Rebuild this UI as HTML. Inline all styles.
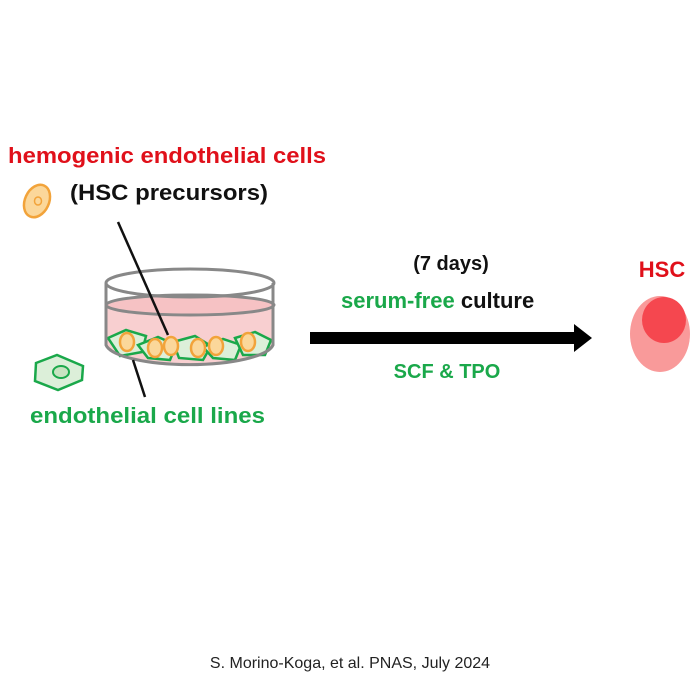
<!DOCTYPE html>
<html><head><style>body{margin:0;background:#fff}svg{display:block}</style></head><body>
<svg width="700" height="700" viewBox="0 0 700 700" xmlns="http://www.w3.org/2000/svg" font-family="Liberation Sans, Arial, sans-serif">
<rect width="700" height="700" fill="#fff"/>
<text x="8" y="163" font-size="22" font-weight="bold" fill="#e0101a" textLength="318" lengthAdjust="spacingAndGlyphs">hemogenic endothelial cells</text>
<text x="70" y="200" font-size="22" font-weight="bold" fill="#111" textLength="198" lengthAdjust="spacingAndGlyphs">(HSC precursors)</text>
<ellipse cx="37" cy="201" rx="12" ry="17" transform="rotate(25 37 201)" fill="#fbd79a" stroke="#f2a33a" stroke-width="2.5"/>
<ellipse cx="38" cy="201" rx="3.5" ry="4" fill="none" stroke="#f2a33a" stroke-width="1.5"/>
<!-- dish -->
<path d="M106 305 L106 345 A84 22 0 0 0 273 345 L273 305 Z" fill="#f8cfd0"/>
<ellipse cx="190" cy="305" rx="84" ry="10" fill="#f6c2c4" stroke="#888" stroke-width="3"/>
<g fill="#dcefd9" stroke="#1aa84a" stroke-width="2.5">
<path d="M108 338 l18 -8 l20 6 l-4 16 l-22 4 z"/>
<path d="M138 345 l20 -8 l18 8 l-6 15 l-22 -2 z"/>
<path d="M173 342 l22 -6 l16 10 l-8 14 l-24 -2 z"/>
<path d="M203 347 l20 -8 l18 6 l-6 15 l-22 -2 z"/>
<path d="M235 338 l20 -6 l16 8 l-6 15 l-22 0 z"/>
</g>
<g fill="#fbd79a" stroke="#f2a33a" stroke-width="2.5">
<ellipse cx="127" cy="342" rx="7" ry="9"/><ellipse cx="155" cy="348" rx="7" ry="9"/><ellipse cx="171" cy="346" rx="7" ry="9"/>
<ellipse cx="198" cy="348" rx="7" ry="9"/><ellipse cx="216" cy="346" rx="7" ry="9"/><ellipse cx="248" cy="342" rx="7" ry="9"/>
</g>
<path d="M106 283 L106 345 A84 22 0 0 0 273 345 L273 283" fill="none" stroke="#888" stroke-width="3"/>
<ellipse cx="190" cy="283" rx="84" ry="14" fill="none" stroke="#888" stroke-width="3"/>
<line x1="118" y1="222" x2="168" y2="335" stroke="#111" stroke-width="2.5"/>
<line x1="133" y1="360" x2="145" y2="397" stroke="#111" stroke-width="2.5"/>
<path d="M36 363 L57 355 L83 366 L82 380 L58 390 L35 381 Z" fill="#dcefd9" stroke="#1aa84a" stroke-width="2.5"/>
<ellipse cx="61" cy="372" rx="8" ry="6" fill="#c8e3c1" stroke="#1aa84a" stroke-width="2"/>
<text x="30" y="423" font-size="22" font-weight="bold" fill="#1aa84a" textLength="235" lengthAdjust="spacingAndGlyphs">endothelial cell lines</text>
<!-- arrow -->
<rect x="310" y="332" width="268" height="12" fill="#000"/>
<path d="M574 324 L592 338 L574 352 Z" fill="#000"/>
<text x="451" y="270" font-size="20" font-weight="bold" fill="#111" text-anchor="middle">(7 days)</text>
<text x="341" y="308" font-size="22" font-weight="bold" fill="#1aa84a">serum-free <tspan fill="#111">culture</tspan></text>
<text x="447" y="378" font-size="20" font-weight="bold" fill="#1aa84a" text-anchor="middle">SCF &amp; TPO</text>
<text x="662" y="277" font-size="22" font-weight="bold" fill="#e0101a" text-anchor="middle">HSC</text>
<ellipse cx="660" cy="334" rx="30" ry="38" fill="#f99a9a"/>
<ellipse cx="664" cy="320" rx="22" ry="23" fill="#f5474f"/>
<text x="350" y="668" font-size="16" fill="#222" text-anchor="middle">S. Morino-Koga, et al. PNAS, July 2024</text>
</svg>
</body></html>
